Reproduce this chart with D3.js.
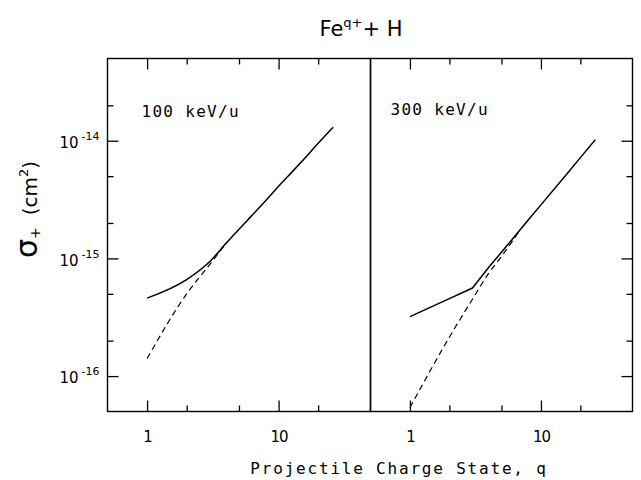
<!DOCTYPE html>
<html lang="en">

<head>
    <meta charset="UTF-8">
    <title>Fe q+ + H</title>
    <script src="https://d3js.org/d3.v7.min.js"></script>
    <style>
        body { margin: 0; background: #fff; }
    </style>
</head>

<body>
    <svg id="chart" width="641" height="480"></svg>

    <script>
        // tick values
        const qTicksMajor = [1, 10];
        const qTicksMinor = [2, 5, 20];
        const sigmaTicksMajor = [1e-16, 1e-15, 1e-14];
        const sigmaTicksMinor = [2e-16, 5e-16, 2e-15, 5e-15, 2e-14];

        // 100 keV/u
        const q100Solid = [1, 2, 3, 4, 5, 6, 8, 10, 13, 16, 20, 26];
        const sigma100Solid = [4.6e-16, 6.6e-16, 9.4e-16, 1.35e-15, 1.77e-15, 2.2e-15, 3.1e-15, 4.1e-15, 5.6e-15, 7.2e-15, 9.5e-15, 1.3e-14];
        const q100Dashed = [1, 2, 3, 4];
        const sigma100Dashed = [1.41e-16, 5.0e-16, 8.9e-16, 1.35e-15];

        // 300 keV/u
        const q300Solid = [1, 2, 3, 4, 6, 8, 10, 16, 20, 26];
        const sigma300Solid = [3.2e-16, 4.55e-16, 5.6e-16, 8.4e-16, 1.44e-15, 2.12e-15, 2.85e-15, 5.33e-15, 7.19e-15, 1.02e-14];
        const q300Dashed = [1, 2, 3, 4, 5, 6, 7];
        const sigma300Dashed = [5.4e-17, 2.14e-16, 4.5e-16, 7.5e-16, 1.04e-15, 1.38e-15, 1.78e-15];

        const panelLabels = ["100 keV/u", "300 keV/u"];

        const svg = d3.select("#chart");
        const plotTop = 58.5, plotBottom = 411.5;
        const panels = [
            { x0: 107.5, x1: 370.5, label: panelLabels[0], solid: [q100Solid, sigma100Solid], dashed: [q100Dashed, sigma100Dashed], solidCurve: d3.curveMonotoneX, yAxis: "left" },
            { x0: 370.5, x1: 632.5, label: panelLabels[1], solid: [q300Solid, sigma300Solid], dashed: [q300Dashed, sigma300Dashed], solidCurve: d3.curveLinear, yAxis: "right" }
        ];

        const yScale = d3.scaleLog()
            .domain([5e-17, 5e-14])
            .range([plotBottom, plotTop]);

        const monoFont = "'DejaVu Sans Mono', monospace";
        const sansFont = "'DejaVu Sans', sans-serif";

        panels.forEach((p, i) => {
            const xScale = d3.scaleLog()
                .domain([0.5, 50])
                .range([p.x0, p.x1]);

            const g = svg.append("g");

            // frame
            g.append("rect")
                .attr("x", p.x0).attr("y", plotTop)
                .attr("width", p.x1 - p.x0).attr("height", plotBottom - plotTop)
                .attr("fill", "none").attr("stroke", "#000").attr("stroke-width", 1.4);

            // x ticks, inward on bottom and top
            const xAxes = [
                { axis: d3.axisBottom, y: plotBottom },
                { axis: d3.axisTop, y: plotTop }
            ];
            xAxes.forEach((a, k) => {
                const major = g.append("g")
                    .attr("transform", `translate(0,${a.y})`)
                    .call(a.axis(xScale).tickValues(qTicksMajor).tickSize(-11).tickPadding(20)
                        .tickFormat(k === 0 ? d3.format("d") : ""));
                const minor = g.append("g")
                    .attr("transform", `translate(0,${a.y})`)
                    .call(a.axis(xScale).tickValues(qTicksMinor).tickSize(-6).tickFormat(""));
                [major, minor].forEach(s => {
                    s.select(".domain").remove();
                    s.selectAll("line").attr("stroke-width", 1.3);
                });
                major.selectAll("text")
                    .style("font-family", sansFont)
                    .style("font-size", "15px")
                    .attr("letter-spacing", -1);
            });

            // y ticks only on outer sides
            const yPos = p.yAxis === "left" ? p.x0 : p.x1;
            const yAxisFn = p.yAxis === "left" ? d3.axisLeft : d3.axisRight;
            const yMajor = g.append("g")
                .attr("transform", `translate(${yPos},0)`)
                .call(yAxisFn(yScale).tickValues(sigmaTicksMajor).tickSize(-11).tickPadding(8));
            const yMinor = g.append("g")
                .attr("transform", `translate(${yPos},0)`)
                .call(yAxisFn(yScale).tickValues(sigmaTicksMinor).tickSize(-6).tickFormat(""));
            [yMajor, yMinor].forEach(s => {
                s.select(".domain").remove();
                s.selectAll("line").attr("stroke-width", 1.3);
            });
            if (p.yAxis === "left") {
                yMajor.selectAll(".tick text").each(function (d) {
                    const t = d3.select(this);
                    t.text(null)
                        .attr("dy", "0.45em")
                        .style("font-family", sansFont)
                        .style("font-size", "15px");
                    t.append("tspan").text("10");
                    t.append("tspan")
                        .attr("dy", -8)
                        .attr("dx", 3)
                        .style("font-size", "11px")
                        .text(Math.round(Math.log10(d)));
                });
            } else {
                yMajor.selectAll(".tick text").remove();
            }

            // curves
            const solidLine = d3.line()
                .x(d => xScale(d[0]))
                .y(d => yScale(d[1]))
                .curve(p.solidCurve);
            const dashedLine = d3.line()
                .x(d => xScale(d[0]))
                .y(d => yScale(d[1]))
                .curve(d3.curveMonotoneX);

            const solidPts = p.solid[0].map((q, j) => [q, p.solid[1][j]]);
            const dashedPts = p.dashed[0].map((q, j) => [q, p.dashed[1][j]]);

            g.append("path")
                .datum(dashedPts)
                .attr("d", dashedLine)
                .attr("fill", "none")
                .attr("stroke", "#000")
                .attr("stroke-width", 1.2)
                .attr("stroke-dasharray", "6,4");

            g.append("path")
                .datum(solidPts)
                .attr("d", solidLine)
                .attr("fill", "none")
                .attr("stroke", "#000")
                .attr("stroke-width", 1.5);

            // panel label
            g.append("text")
                .attr("x", p.x0 + (i === 0 ? 34 : 20))
                .attr("y", i === 0 ? 117 : 115)
                .style("font-family", monoFont)
                .style("font-size", "16px")
                .attr("letter-spacing", 1.3)
                .text(p.label);
        });

        // title
        const title = svg.append("text")
            .attr("x", 361)
            .attr("y", 36)
            .attr("text-anchor", "middle")
            .style("font-family", sansFont)
            .style("font-size", "21px");
        title.append("tspan").text("Fe");
        title.append("tspan").attr("dy", -9).style("font-size", "13px").text("q+");
        title.append("tspan").attr("dy", 9).text("+ H");

        // x axis title
        svg.append("text")
            .attr("x", 399)
            .attr("y", 474)
            .attr("text-anchor", "middle")
            .style("font-family", monoFont)
            .style("font-size", "16px")
            .attr("letter-spacing", 1.8)
            .text("Projectile Charge State, q");

        // y axis title
        const yTitle = svg.append("text")
            .attr("transform", "translate(37,258) rotate(-90)")
            .style("font-family", sansFont)
            .style("font-size", "20px");
        yTitle.append("tspan").style("font-size", "30px").text("σ");
        yTitle.append("tspan").attr("dy", 3).style("font-size", "14px").text("+");
        yTitle.append("tspan").attr("dy", -3).attr("dx", 12).text("(cm");
        yTitle.append("tspan").attr("dy", -9).style("font-size", "13px").text("2");
        yTitle.append("tspan").attr("dy", 9).text(")");
    </script>
</body>

</html>
